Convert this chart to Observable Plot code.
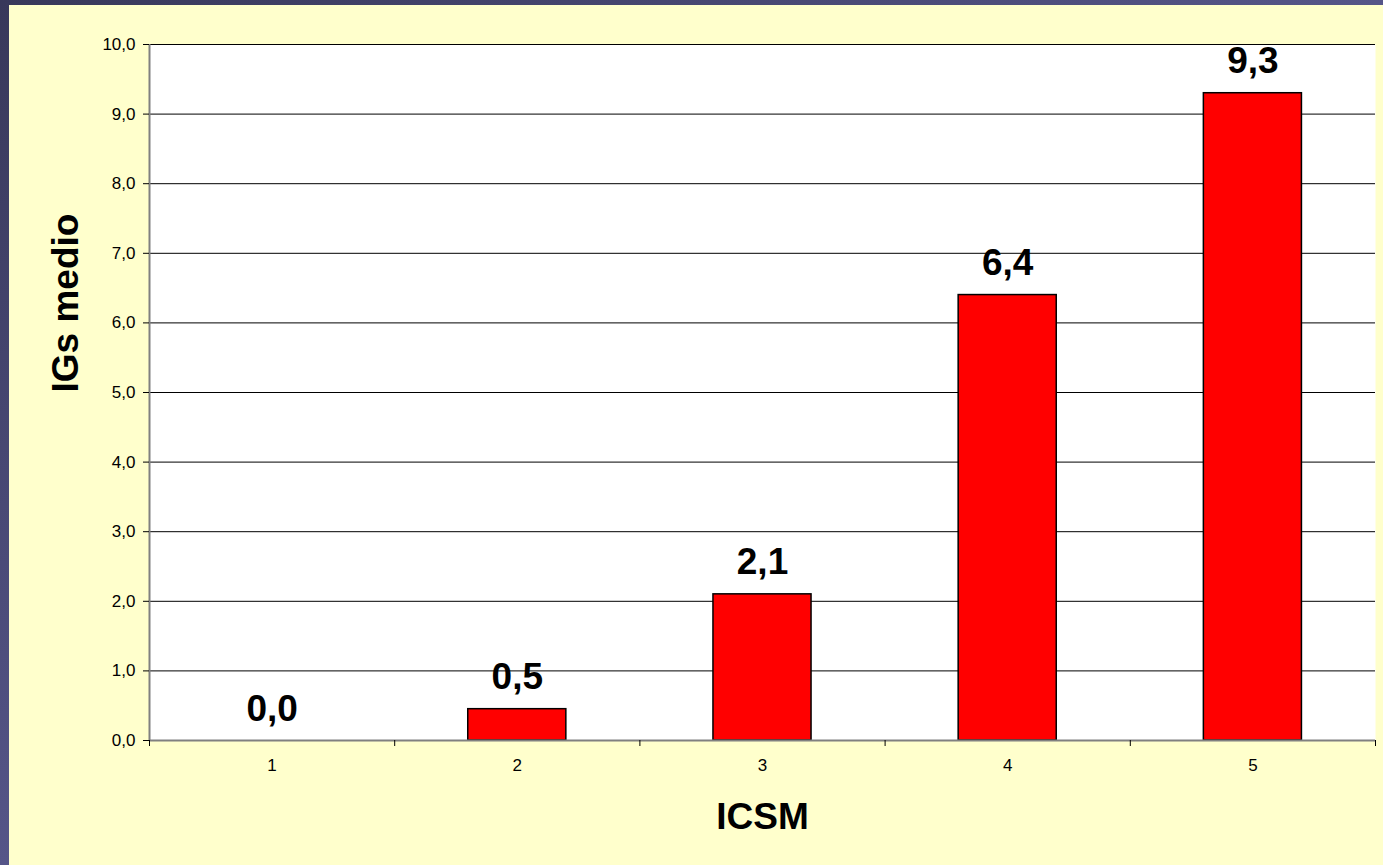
<!DOCTYPE html>
<html>
<head>
<meta charset="utf-8">
<script src="https://cdn.jsdelivr.net/npm/d3@7"></script>
<script src="https://cdn.jsdelivr.net/npm/@observablehq/plot@0.6"></script>
<style>
  html, body { margin: 0; padding: 0; }
  body {
    width: 1383px; height: 865px; position: relative; overflow: hidden;
    background: linear-gradient(to bottom right, #38385a 0%, #555588 50%, #64649e 100%);
  }
  #panel { position: absolute; left: 9px; top: 5px; right: 0; bottom: 0; background: #FFFFCC; }
  #chart { position: absolute; left: 0; top: 0; }
</style>
</head>
<body>
<div id="panel"></div>
<div id="chart"></div>
<script>
const categories = [1, 2, 3, 4, 5];
const values = [0, 0.45, 2.1, 6.4, 9.3];
const valueLabels = ["0,0", "0,5", "2,1", "6,4", "9,3"];
const yTicks = [0, 1, 2, 3, 4, 5, 6, 7, 8, 9, 10];
const xBoundaries = [0.5, 1.5, 2.5, 3.5, 4.5, 5.5];
const xTitle = "ICSM";
const yTitle = "IGs medio";

const data = categories.map((c, i) => ({ c, v: values[i], label: valueLabels[i] }));
const fmt = d => d.toFixed(1).replace(".", ",");
const font = "Arial, 'Liberation Sans', sans-serif";

const chart = Plot.plot({
  width: 1383,
  height: 865,
  marginLeft: 149,
  marginRight: 8,
  marginTop: 44,
  marginBottom: 125,
  style: { background: "transparent", fontFamily: font, fontSize: "17px", color: "black" },
  x: { type: "linear", domain: [0.5, 5.5] },
  y: { domain: [0, 10] },
  marks: [
    Plot.frame({ fill: "white", stroke: null }),
    Plot.gridY(yTicks, { stroke: "black", strokeOpacity: 1, strokeWidth: 1 }),
    Plot.rectY(data, {
      x1: d => d.c - 0.2, x2: d => d.c + 0.2, y1: 0, y2: "v",
      fill: "#FF0000", stroke: "black", strokeWidth: 1.5
    }),
    Plot.ruleY([0], { stroke: "#808080", strokeWidth: 2 }),
    Plot.ruleX([0.5], { stroke: "#808080", strokeWidth: 2 }),
    Plot.axisY({ ticks: yTicks, tickFormat: fmt, tickSize: 6, tickPadding: 8, label: null, fontSize: 17 }),
    Plot.axisX({ ticks: categories, tickSize: 0, tickPadding: 18, tickFormat: d => String(d), label: null, fontSize: 17 }),
    Plot.axisX({ ticks: xBoundaries, tickSize: 6, tickFormat: () => "", label: null }),
    Plot.text(data, {
      x: "c", y: "v", text: "label", dy: -20, lineAnchor: "bottom",
      fontSize: 37, fontWeight: "bold", fill: "black"
    }),
    Plot.text([xTitle], {
      text: d => d, frameAnchor: "bottom", dy: 88, lineAnchor: "bottom",
      fontSize: 37, fontWeight: "bold", fill: "black"
    }),
    Plot.text([yTitle], {
      text: d => d, frameAnchor: "left", dx: -72, rotate: -90, lineAnchor: "bottom",
      fontSize: 37, fontWeight: "bold", fill: "black"
    })
  ]
});
document.getElementById("chart").appendChild(chart);
</script>
</body>
</html>
